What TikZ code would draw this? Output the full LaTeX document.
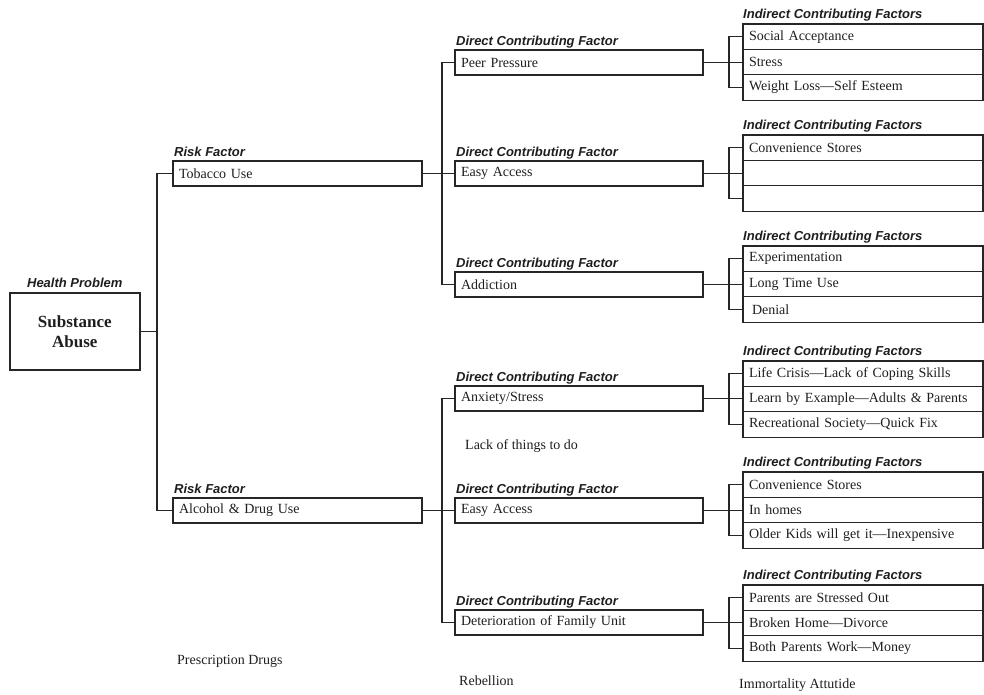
\documentclass[tikz,border=0pt]{standalone}
\usepackage{fontspec}
\setmainfont{Liberation Serif}
\setsansfont{Liberation Sans}
\definecolor{Linecol}{HTML}{262626}
\definecolor{Textcol}{HTML}{1E1E1E}
\usetikzlibrary{positioning}
\tikzset{
    font=\rmfamily,
    link/.style={draw=Linecol, line width=1.1pt},
    healthbox/.style={draw=Linecol, line width=1.6pt, anchor=north west, minimum width=130pt,
        minimum height=77pt, align=center, text=Textcol, font=\bfseries\fontsize{17}{20}\selectfont},
    factorbox/.style={draw=Linecol, line width=1.1pt, anchor=north west, outer sep=0pt,
        minimum height=25pt, inner xsep=6pt, align=left, text=Textcol, font=\fontsize{14}{16}\selectfont},
    riskbox/.style={factorbox, text width=237pt},
    directbox/.style={factorbox, text width=236pt},
    indirectbox/.style={factorbox, text width=228pt, minimum height=25.4pt},
    hdr/.style={anchor=base west, inner sep=0pt, text=Textcol, font=\sffamily\bfseries\itshape\fontsize{13}{15}\selectfont},
    note/.style={anchor=west, inner sep=0pt, text=Textcol, font=\fontsize{14}{16}\selectfont}
}

\begin{document}
\begin{tikzpicture}[x=1pt, y=-1pt]
    \useasboundingbox (0,0) rectangle (984,694);

    % Trunk positions
    \coordinate (rtrunk) at (157,0);
    \coordinate (dtrunk) at (442,0);
    \coordinate (itrunk) at (729,0);

    % Health problem
    \node[healthbox] (sa) at (9,292) {Substance\\Abuse};
    \node[hdr, anchor=base] (sah) at ([yshift=5pt]sa.north) {Health Problem};

    % Risk factors
    \node[riskbox] (tob) at (173,161) {Tobacco Use};
    \node[hdr] (tobh) at ([xshift=1pt, yshift=5pt]tob.north west) {Risk Factor};
    \node[riskbox] (alc) at (173,498) {Alcohol \& Drug Use};
    \node[hdr] (alch) at ([xshift=1pt, yshift=5pt]alc.north west) {Risk Factor};

    % Direct contributing factors
    \node[directbox] (pp) at (455,50) {Peer Pressure};
    \node[directbox] (ea1) at (455,161) {Easy Access};
    \node[directbox] (ad) at (455,272) {Addiction};
    \node[directbox] (ax) at (455,386) {Anxiety/Stress};
    \node[directbox] (ea2) at (455,498) {Easy Access};
    \node[directbox] (df) at (455,610) {Deterioration of Family Unit};
    \node[hdr] (pph) at ([xshift=1pt, yshift=5pt]pp.north west) {Direct Contributing Factor};
    \node[hdr] (ea1h) at ([xshift=1pt, yshift=5pt]ea1.north west) {Direct Contributing Factor};
    \node[hdr] (adh) at ([xshift=1pt, yshift=5pt]ad.north west) {Direct Contributing Factor};
    \node[hdr] (axh) at ([xshift=1pt, yshift=5pt]ax.north west) {Direct Contributing Factor};
    \node[hdr] (ea2h) at ([xshift=1pt, yshift=5pt]ea2.north west) {Direct Contributing Factor};
    \node[hdr] (dfh) at ([xshift=1pt, yshift=5pt]df.north west) {Direct Contributing Factor};

    % Indirect contributing factors
    \node[indirectbox] (i1a) at (743,24) {Social Acceptance};
    \node[indirectbox, below=0pt of i1a] (i1b) {Stress};
    \node[indirectbox, below=0pt of i1b] (i1c) {Weight Loss—Self Esteem};
    \node[hdr] (i1h) at ([yshift=6pt]i1a.north west) {Indirect Contributing Factors};

    \node[indirectbox] (i2a) at (743,135) {Convenience Stores};
    \node[indirectbox, below=0pt of i2a] (i2b) {};
    \node[indirectbox, below=0pt of i2b] (i2c) {};
    \node[hdr] (i2h) at ([yshift=6pt]i2a.north west) {Indirect Contributing Factors};

    \node[indirectbox] (i3a) at (743,246) {Experimentation};
    \node[indirectbox, below=0pt of i3a] (i3b) {Long Time Use};
    \node[indirectbox, below=0pt of i3b] (i3c) {\hspace{3pt}Denial};
    \node[hdr] (i3h) at ([yshift=6pt]i3a.north west) {Indirect Contributing Factors};

    \node[indirectbox] (i4a) at (743,361) {Life Crisis—Lack of Coping Skills};
    \node[indirectbox, below=0pt of i4a] (i4b) {Learn by Example—Adults \& Parents};
    \node[indirectbox, below=0pt of i4b] (i4c) {Recreational Society—Quick Fix};
    \node[hdr] (i4h) at ([yshift=6pt]i4a.north west) {Indirect Contributing Factors};

    \node[indirectbox] (i5a) at (743,472) {Convenience Stores};
    \node[indirectbox, below=0pt of i5a] (i5b) {In homes};
    \node[indirectbox, below=0pt of i5b] (i5c) {Older Kids will get it—Inexpensive};
    \node[hdr] (i5h) at ([yshift=6pt]i5a.north west) {Indirect Contributing Factors};

    \node[indirectbox] (i6a) at (743,585) {Parents are Stressed Out};
    \node[indirectbox, below=0pt of i6a] (i6b) {Broken Home—Divorce};
    \node[indirectbox, below=0pt of i6b] (i6c) {Both Parents Work—Money};
    \node[hdr] (i6h) at ([yshift=6pt]i6a.north west) {Indirect Contributing Factors};

    % Loose notes
    \node[note] (lack) at (465,446) {Lack of things to do};
    \node[note] (presc) at (177,661) {Prescription Drugs};
    \node[note] (rebel) at (459,681) {Rebellion};
    \node[note] (immort) at (739,685) {Immortality Attutide};

    % Connectors: health problem to risk factors
    \draw[link] (sa.east) -- (sa.east -| rtrunk);
    \draw[link] (tob.west) -| (rtrunk |- alc.west) -- (alc.west);

    % Connectors: risk factors to direct factors
    \draw[link] (tob.east) -- (tob.east -| ea1.west);
    \draw[link] (pp.west) -| (dtrunk |- ad.west) -- (ad.west);
    \draw[link] (alc.east) -- (alc.east -| ea2.west);
    \draw[link] (ax.west) -| (dtrunk |- df.west) -- (df.west);

    % Connectors: direct factors to indirect factors
    \draw[link] (pp.east) -- (pp.east -| i1b.west);
    \draw[link] (i1a.west) -| (itrunk |- i1c.west) -- (i1c.west);
    \draw[link] (ea1.east) -- (ea1.east -| i2b.west);
    \draw[link] (i2a.west) -| (itrunk |- i2c.west) -- (i2c.west);
    \draw[link] (ad.east) -- (ad.east -| i3b.west);
    \draw[link] (i3a.west) -| (itrunk |- i3c.west) -- (i3c.west);
    \draw[link] (ax.east) -- (ax.east -| i4b.west);
    \draw[link] (i4a.west) -| (itrunk |- i4c.west) -- (i4c.west);
    \draw[link] (ea2.east) -- (ea2.east -| i5b.west);
    \draw[link] (i5a.west) -| (itrunk |- i5c.west) -- (i5c.west);
    \draw[link] (df.east) -- (df.east -| i6b.west);
    \draw[link] (i6a.west) -| (itrunk |- i6c.west) -- (i6c.west);
\end{tikzpicture}
\end{document}
